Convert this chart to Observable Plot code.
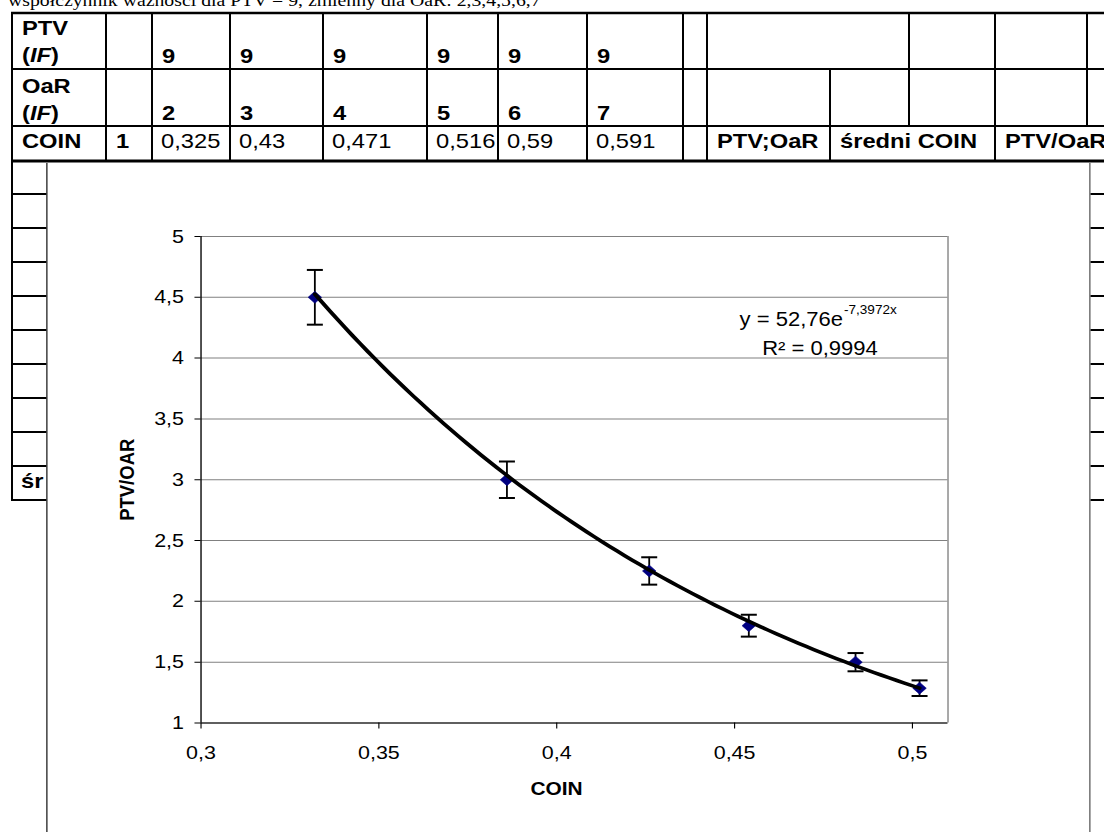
<!DOCTYPE html>
<html><head><meta charset="utf-8">
<script src="https://cdn.jsdelivr.net/npm/d3@7"></script>
<script src="https://cdn.jsdelivr.net/npm/@observablehq/plot@0.6"></script>
<style>
html,body{margin:0;padding:0;background:#fff;overflow:hidden;width:1104px;height:832px}
#wrap{position:absolute;left:0;top:0;height:832px;transform-origin:0 0}
#bg{position:absolute;left:0;top:0}
#frame{position:absolute;background:#fff;box-sizing:border-box;border-left:1px solid #000;border-right:1px solid #444}
#chart{position:absolute}
</style></head><body><div id="wrap"><svg id="bg"></svg><div id="frame"></div><div id="chart"></div></div>
<script>
// ---- data ----
const coin = [0.332, 0.386, 0.426, 0.454, 0.484, 0.502];
const ptvOar = [4.5, 3.0, 2.25, 1.8, 1.5, 1.286];
const errorPct = 5;
const trendA = 52.76, trendB = -7.3972, r2 = 0.9994;
const xTicks = [0.3, 0.35, 0.4, 0.45, 0.5];
const yTicks = [1, 1.5, 2, 2.5, 3, 3.5, 4, 4.5, 5];
const ptvIF = ["9", "9", "9", "9", "9", "9"];
const oarIF = ["2", "3", "4", "5", "6", "7"];
const coinVals = ["0,325", "0,43", "0,471", "0,516", "0,59", "0,591"];
const extraHeads = ["PTV;OaR", "średni COIN", "PTV/OaR"];
const tableTitle = "współczynnik ważności dla PTV = 9, zmienny dla OaR: 2,3,4,5,6,7";

// ---- layout (final px), horizontal stretch S ----
const S = 1.13;
const W = 1104, H = 832;
const wrap = document.getElementById("wrap");
wrap.style.width = (W / S) + "px";
wrap.style.transform = `scaleX(${S})`;
const px = v => v / S;

const colE = [12, 106, 152, 230, 323, 427, 498, 587, 683, 707, 830, 909, 995, 1087];
const rowE = [13, 69, 126, 161];
const subRows = [194, 228, 262, 296, 330, 364, 398, 432, 466, 500];

const bg = d3.select("#bg").attr("width", W / S).attr("height", H);
const hl = (x1, x2, y, t) => bg.append("line").attr("x1", px(x1)).attr("x2", px(x2)).attr("y1", y).attr("y2", y).attr("stroke", "#000").attr("stroke-width", t);
const vl = (x, y1, y2, t) => bg.append("line").attr("x1", px(x)).attr("x2", px(x)).attr("y1", y1).attr("y2", y2).attr("stroke", "#000").attr("stroke-width", t / S);
const tx = (x, y, s, bold) => bg.append("text").attr("x", px(x)).attr("y", y).attr("font-family", "Arial, 'Liberation Sans', sans-serif").attr("font-size", 21).attr("font-weight", bold ? "bold" : "normal").text(s);

// title (mostly clipped at the top)
bg.append("text").attr("x", px(8)).attr("y", 6).attr("font-family", "'Times New Roman', 'Liberation Serif', serif").attr("font-size", 17.5).text(tableTitle);

// horizontal lines
hl(11, W, rowE[0], 2.5);
hl(11, W, rowE[1], 2);
hl(11, W, rowE[2], 2);
hl(11, W, rowE[3], 3);
// vertical lines per row
colE.forEach(x => {
  if (x !== 830) vl(x, rowE[0], rowE[1], 2);
  vl(x, rowE[1], rowE[2], 2);
  if (x !== 909 && x !== 1087) vl(x, rowE[2], rowE[3], 2);
});
// lower left column and right side stubs
vl(12, rowE[3], 500, 2);
subRows.forEach(y => { hl(11, 48, y, 2); hl(1088, W, y, 2); });
tx(21, 488, "śr", true);

// row texts
function ifLabel(y) {
  const t = bg.append("text").attr("x", px(22)).attr("y", y).attr("font-family", "Arial, 'Liberation Sans', sans-serif").attr("font-size", 21).attr("font-weight", "bold");
  t.append("tspan").text("(");
  t.append("tspan").attr("font-style", "italic").text("IF");
  t.append("tspan").text(")");
}
tx(22, 35, "PTV", true); ifLabel(62.5);
tx(22, 93, "OaR", true); ifLabel(120);
tx(22, 148, "COIN", true);
tx(116, 148, "1", true);
ptvIF.forEach((v, i) => tx(colE[2 + i] + 10, 63, v, true));
oarIF.forEach((v, i) => tx(colE[2 + i] + 10, 120, v, true));
coinVals.forEach((v, i) => tx(colE[2 + i] + 9, 148, v, false));
tx(717, 148, extraHeads[0], true);
tx(840, 148, extraHeads[1], true);
tx(1005, 148, extraHeads[2], true);

// chart frame
const fr = document.getElementById("frame");
fr.style.left = px(46.5) + "px"; fr.style.top = "162.5px";
fr.style.width = px(1090 - 46.5) + "px"; fr.style.height = "700px";

// ---- chart ----
const chartLeft = 47, chartTop = 162, chartW = 1042, chartH = 670;
const plotL = 200, plotR = 947, plotT = 236, plotB = 722.5;
const ch = document.getElementById("chart");
ch.style.left = px(chartLeft) + "px"; ch.style.top = chartTop + "px";

const pts = coin.map((c, i) => ({x: c, y: ptvOar[i]}));
const trend = d3.range(0, 81).map(i => {
  const x = coin[0] + (coin[coin.length - 1] - coin[0]) * i / 80;
  return {x, y: trendA * Math.exp(trendB * x)};
});
const fmt = d => String(d).replace(".", ",");
const capW = 8 / S;
const capSym = {draw(ctx) { ctx.moveTo(-capW, 0); ctx.lineTo(capW, 0); }};
const font = "Arial, 'Liberation Sans', sans-serif";

const chart = Plot.plot({
  width: px(chartW), height: chartH,
  marginLeft: px(plotL - chartLeft), marginRight: px(chartLeft + chartW - plotR),
  marginTop: plotT - chartTop, marginBottom: chartTop + chartH - plotB,
  style: {fontFamily: font, fontSize: "19px", color: "#000", background: "transparent"},
  x: {domain: [0.3, 0.51]},
  y: {domain: [1, 5]},
  marks: [
    Plot.gridY(yTicks, {stroke: "#808080", strokeOpacity: 1, strokeWidth: 1}),
    Plot.ruleX([0.51], {stroke: "#808080", strokeWidth: 1.2}),
    Plot.ruleX([0.3], {stroke: "#000", strokeWidth: 1.2}),
    Plot.ruleY([1], {stroke: "#000", strokeWidth: 1.2}),
    Plot.axisY(yTicks, {tickFormat: fmt, tickSize: px(6), tickPadding: px(11), fontSize: 19, label: null, stroke: "#000"}),
    Plot.axisX(xTicks, {tickFormat: fmt, tickSize: 6, tickPadding: 17, fontSize: 19, label: null, stroke: "#000"}),
    Plot.ruleX(pts, {x: "x", y1: d => d.y * (1 - errorPct / 100), y2: d => d.y * (1 + errorPct / 100), stroke: "#000", strokeWidth: 1.6}),
    Plot.dot(pts, {x: "x", y: d => d.y * (1 - errorPct / 100), symbol: capSym, stroke: "#000", strokeWidth: 2, fill: "none"}),
    Plot.dot(pts, {x: "x", y: d => d.y * (1 + errorPct / 100), symbol: capSym, stroke: "#000", strokeWidth: 2, fill: "none"}),
    Plot.dot(pts, {x: "x", y: "y", symbol: "diamond2", r: 5.4, fill: "#000080", stroke: "#000080", strokeWidth: 0.5}),
    Plot.line(trend, {x: "x", y: "y", stroke: "#000", strokeWidth: 3.6}),
    Plot.text(["COIN"], {text: d => d, frameAnchor: "bottom", dx: px(-18), dy: 72.5, textAnchor: "middle", fontWeight: "bold", fontSize: 18.5}),
    Plot.text(["PTV/OAR"], {text: d => d, frameAnchor: "left", dx: px(-74), rotate: -90, textAnchor: "middle", fontWeight: "bold", fontSize: 18.5}),
    Plot.text(["y = " + fmt(trendA) + "e"], {text: d => d, frameAnchor: "top-right", dx: px(842 - plotR), dy: 76, textAnchor: "end", fontSize: 19.5}),
    Plot.text([fmt(trendB) + "x"], {text: d => d, frameAnchor: "top-right", dx: px(843 - plotR), dy: 69, textAnchor: "start", fontSize: 12}),
    Plot.text(["R² = " + fmt(r2)], {text: d => d, frameAnchor: "top-right", dx: px(819 - plotR), dy: 105, textAnchor: "middle", fontSize: 19.5})
  ]
});
ch.appendChild(chart);
</script></body></html>
